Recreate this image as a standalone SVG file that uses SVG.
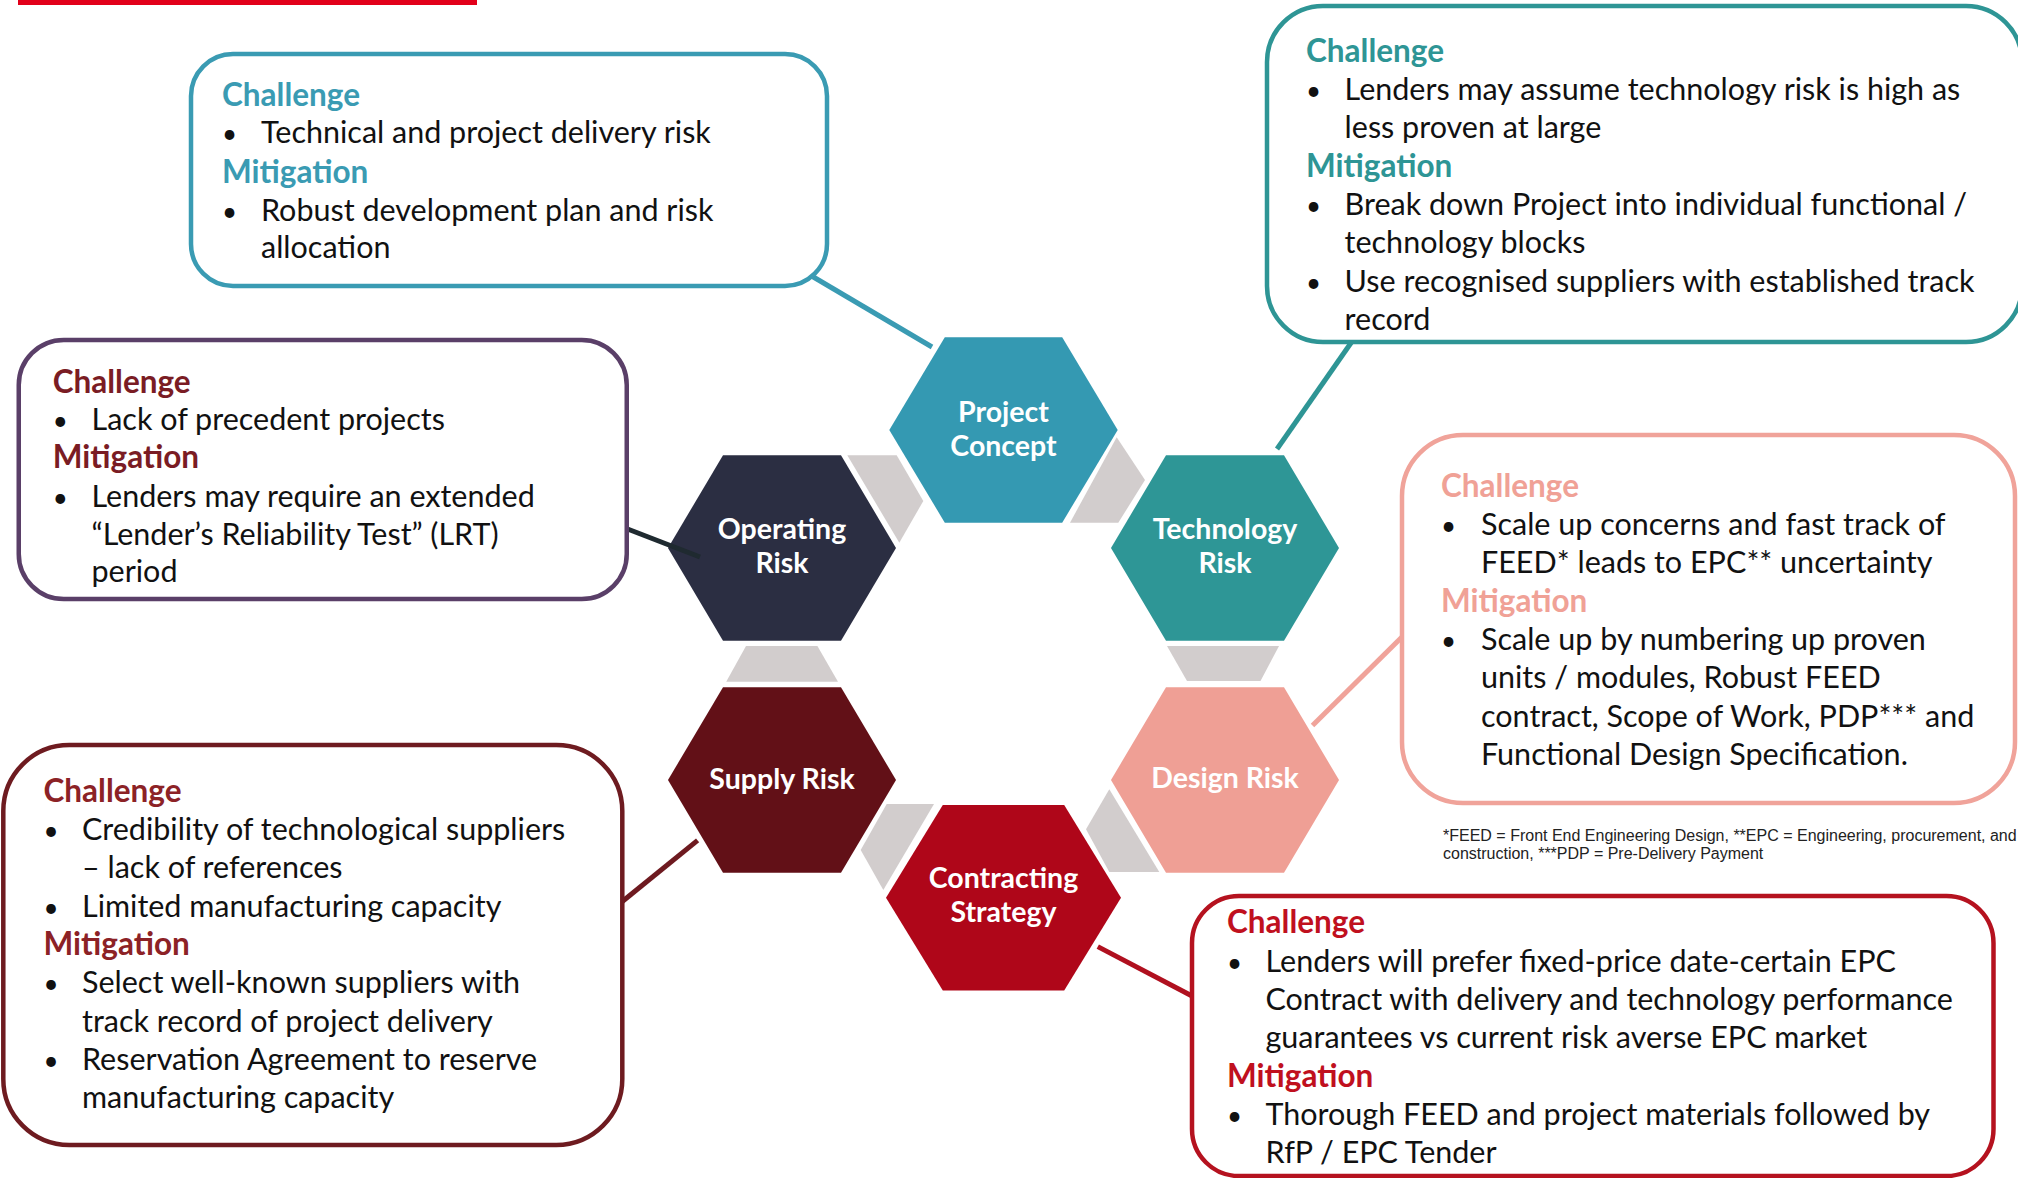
<svg xmlns="http://www.w3.org/2000/svg" width="2018" height="1178" viewBox="0 0 2018 1178">
<style>
.t{font-family:Lato,"Noto Sans",sans-serif;font-size:30.5px;fill:#111}
.b{font-family:Lato,"Noto Sans",sans-serif;font-size:26px;fill:#111}
.h{font-weight:700;font-size:31.5px}
.hx{font-family:Lato,"Noto Sans",sans-serif;font-weight:700;font-size:28.5px;fill:#fff;text-anchor:middle}
.box{fill:#fff;stroke-width:4.5}
.gr{fill:#D2CDCD}
.ln{stroke-width:5;fill:none}
.fn{font-family:"Liberation Sans",Arial,sans-serif;font-size:16px;fill:#222}
</style>
<rect x="18" y="0" width="459" height="5" fill="#E2001A"/>

<g id="hexagons">
<g id="hex-project"><polygon points="944.8,337.3 1062.2,337.3 1117.7,430 1062.2,522.7 944.8,522.7 889.3,430" fill="#3499B2"/><text class="hx" x="1003.5" y="422.2">Project</text><text class="hx" x="1003.5" y="456.2">Concept</text></g>
<g id="hex-operating"><polygon points="723,455.2 841,455.2 896,548 841,640.8 723,640.8 668,548" fill="#2B2E42"/><text class="hx" x="782" y="539.3">Operating</text><text class="hx" x="782" y="573.3">Risk</text></g>
<g id="hex-technology"><polygon points="1166,455.2 1284,455.2 1339,548 1284,640.8 1166,640.8 1111,548" fill="#2E9696"/><text class="hx" x="1225" y="539.3">Technology</text><text class="hx" x="1225" y="573.3">Risk</text></g>
<g id="hex-supply"><polygon points="723,687.2 841,687.2 896,780 841,872.8 723,872.8 668,780" fill="#621017"/><text class="hx" x="782" y="789">Supply Risk</text></g>
<g id="hex-design"><polygon points="1166,687.2 1284,687.2 1339,780 1284,872.8 1166,872.8 1111,780" fill="#EF9F95"/><text class="hx" x="1225" y="787.5">Design Risk</text></g>
<g id="hex-contracting"><polygon points="942.8,805 1064.2,805 1121,897.8 1064.2,990.6 942.8,990.6 886,897.8" fill="#AF0619"/><text class="hx" x="1003.5" y="888">Contracting</text><text class="hx" x="1003.5" y="922">Strategy</text></g>
</g>

<g id="connectors">
<polygon class="gr" points="847.3,455.3 896.7,455.3 923.3,501 899.3,542.7"/>
<polygon class="gr" points="1116.7,437.3 1145,480 1118.3,522.7 1070,522.7"/>
<polygon class="gr" points="746,646 817.4,646 838,681.7 726.2,681.7"/>
<polygon class="gr" points="1167,646 1279,646 1260.5,681 1187,681"/>
<polygon class="gr" points="886.7,804 934,804 883.3,890 860.7,850"/>
<polygon class="gr" points="1109.3,789.3 1159.3,872 1109.3,872 1086,829.3"/>
<line class="ln" x1="810" y1="275" x2="932" y2="347" stroke="#3A9BB3"/>
<line class="ln" x1="1353" y1="340" x2="1277" y2="449" stroke="#2E9595"/>
<line class="ln" x1="625" y1="528" x2="700" y2="557" stroke="#1F2A30"/>
<line class="ln" x1="1312.5" y1="725.5" x2="1405" y2="634" stroke="#F0A39A"/>
<line class="ln" x1="618" y1="905" x2="697.6" y2="840.4" stroke="#6E1A20"/>
<line class="ln" x1="1097.8" y1="946.6" x2="1193" y2="996.5" stroke="#B0101F"/>
</g>

<g id="box-project">
<rect class="box" x="191" y="54" width="636" height="232" rx="42" stroke="#3A9BB3"/>
<text class="t h" x="222" y="106" style="fill:#3A9BB3">Challenge</text>
<text class="b" x="222" y="143.3">•</text><text class="t" x="261" y="143.3">Technical and project delivery risk</text>
<text class="t h" x="222" y="182.7" style="fill:#3A9BB3">Mitigation</text>
<text class="b" x="222" y="220.7">•</text><text class="t" x="261" y="220.7">Robust development plan and risk</text>
<text class="t" x="261" y="258.3">allocation</text>
</g>

<g id="box-technology">
<rect class="box" x="1267" y="6" width="755" height="336" rx="56" stroke="#2E9595"/>
<text class="t h" x="1306" y="61.7" style="fill:#2E9595">Challenge</text>
<text class="b" x="1306" y="100">•</text><text class="t" x="1344.6" y="100">Lenders may assume technology risk is high as</text>
<text class="t" x="1344.6" y="138.3">less proven at large</text>
<text class="t h" x="1306" y="176.7" style="fill:#2E9595">Mitigation</text>
<text class="b" x="1306" y="215">•</text><text class="t" x="1344.6" y="215">Break down Project into individual functional /</text>
<text class="t" x="1344.6" y="253.3">technology blocks</text>
<text class="b" x="1306" y="291.7">•</text><text class="t" x="1344.6" y="291.7">Use recognised suppliers with established track</text>
<text class="t" x="1344.6" y="330">record</text>
</g>

<g id="box-operating">
<rect class="box" x="18.75" y="340" width="608" height="259" rx="45" stroke="#5A3F68"/>
<text class="t h" x="52.7" y="392.7" style="fill:#7A1C24">Challenge</text>
<text class="b" x="52.7" y="430">•</text><text class="t" x="91.5" y="430">Lack of precedent projects</text>
<text class="t h" x="52.7" y="468.3" style="fill:#7A1C24">Mitigation</text>
<text class="b" x="52.7" y="506.7">•</text><text class="t" x="91.5" y="506.7">Lenders may require an extended</text>
<text class="t" x="91.5" y="545">“Lender’s Reliability Test” (LRT)</text>
<text class="t" x="91.5" y="582.3">period</text>
</g>

<g id="box-design">
<rect class="box" x="1402" y="435" width="613" height="368" rx="61" stroke="#F0A39A"/>
<text class="t h" x="1441" y="496.7" style="fill:#F0A196">Challenge</text>
<text class="b" x="1441" y="535">•</text><text class="t" x="1481" y="535">Scale up concerns and fast track of</text>
<text class="t" x="1481" y="573.3">FEED* leads to EPC** uncertainty</text>
<text class="t h" x="1441" y="611.7" style="fill:#F0A196">Mitigation</text>
<text class="b" x="1441" y="650">•</text><text class="t" x="1481" y="650">Scale up by numbering up proven</text>
<text class="t" x="1481" y="688.3">units / modules, Robust FEED</text>
<text class="t" x="1481" y="726.7">contract, Scope of Work, PDP*** and</text>
<text class="t" x="1481" y="765">Functional Design Specification.</text>
<text class="fn" x="1443" y="840.7">*FEED = Front End Engineering Design, **EPC = Engineering, procurement, and</text>
<text class="fn" x="1443" y="859.3">construction, ***PDP = Pre-Delivery Payment</text>
</g>

<g id="box-supply">
<rect class="box" x="3.3" y="745" width="619" height="400" rx="66" stroke="#6E1B20"/>
<text class="t h" x="43.5" y="801.7" style="fill:#8C2226">Challenge</text>
<text class="b" x="43.5" y="840">•</text><text class="t" x="82" y="840">Credibility of technological suppliers</text>
<text class="t" x="82" y="878.3">– lack of references</text>
<text class="b" x="43.5" y="916.7">•</text><text class="t" x="82" y="916.7">Limited manufacturing capacity</text>
<text class="t h" x="43.5" y="955" style="fill:#8C2226">Mitigation</text>
<text class="b" x="43.5" y="993.3">•</text><text class="t" x="82" y="993.3">Select well-known suppliers with</text>
<text class="t" x="82" y="1031.7">track record of project delivery</text>
<text class="b" x="43.5" y="1070">•</text><text class="t" x="82" y="1070">Reservation Agreement to reserve</text>
<text class="t" x="82" y="1108.3">manufacturing capacity</text>
</g>

<g id="box-contracting">
<rect class="box" x="1192" y="896" width="801.5" height="280" rx="47" stroke="#B5121F"/>
<text class="t h" x="1227" y="933.3" style="fill:#C0101E">Challenge</text>
<text class="b" x="1227" y="971.7">•</text><text class="t" x="1265.5" y="971.7">Lenders will prefer fixed-price date-certain EPC</text>
<text class="t" x="1265.5" y="1010">Contract with delivery and technology performance</text>
<text class="t" x="1265.5" y="1048.3">guarantees vs current risk averse EPC market</text>
<text class="t h" x="1227" y="1086.7" style="fill:#C0101E">Mitigation</text>
<text class="b" x="1227" y="1125">•</text><text class="t" x="1265.5" y="1125">Thorough FEED and project materials followed by</text>
<text class="t" x="1265.5" y="1163.3">RfP / EPC Tender</text>
</g>
</svg>
